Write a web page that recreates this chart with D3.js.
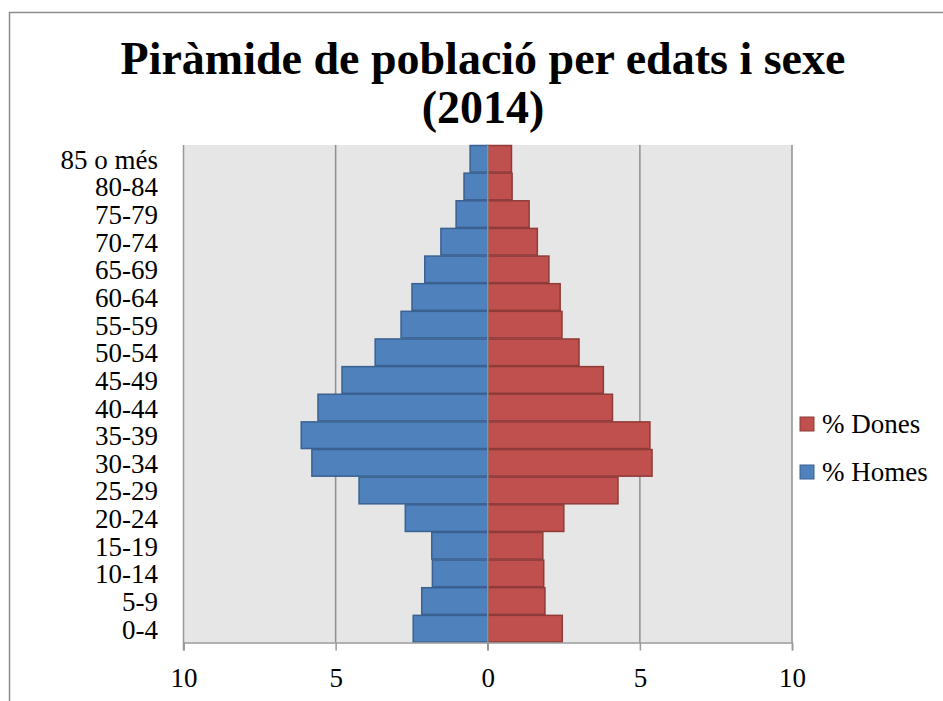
<!DOCTYPE html>
<html>
<head>
<meta charset="utf-8">
<script src="https://cdn.jsdelivr.net/npm/d3@7"></script>
<style>
  body { margin: 0; background: #fff; }
  svg { display: block; }
</style>
</head>
<body>
<svg id="chart" width="943" height="701"></svg>
<script>
// age groups, bottom to top
const ages   = ["0-4", "5-9", "10-14", "15-19", "20-24", "25-29", "30-34", "35-39", "40-44",
                "45-49", "50-54", "55-59", "60-64", "65-69", "70-74", "75-79", "80-84", "85 o més"];
const homes  = [2.45, 2.17, 1.82, 1.84, 2.71, 4.23, 5.78, 6.13, 5.58,
                4.79, 3.70, 2.85, 2.49, 2.07, 1.54, 1.04, 0.78, 0.58];
const dones  = [2.45, 1.88, 1.84, 1.81, 2.50, 4.28, 5.40, 5.33, 4.10,
                3.80, 3.00, 2.44, 2.38, 2.01, 1.63, 1.36, 0.80, 0.78];
const xTicks = [-10, -5, 0, 5, 10];
const legendItems = [
  { name: "% Dones", fill: "#C0504D", stroke: "#8E3B39" },
  { name: "% Homes", fill: "#4F81BD", stroke: "#3A6190" }
];

const FONT = "'Liberation Serif', 'DejaVu Serif', serif";
const svg = d3.select("#chart");

// chart frame
svg.append("rect")
  .attr("x", 9.5).attr("y", 12.5)
  .attr("width", 1000).attr("height", 1000)
  .attr("fill", "#fff")
  .attr("stroke", "#8c8c8c")
  .attr("stroke-width", 1.5);

const plot = { left: 183.5, right: 792, top: 145, bottom: 642.5 };

const x = d3.scaleLinear().domain([-10, 10]).range([plot.left, plot.right]);
const y = d3.scaleBand().domain(ages.slice().reverse()).range([plot.top, plot.bottom]).padding(0);

// title
const title = svg.append("text")
  .attr("text-anchor", "middle")
  .attr("font-family", FONT)
  .attr("font-weight", "bold")
  .attr("font-size", 46)
  .attr("fill", "#000");
title.append("tspan").attr("x", 483).attr("y", 74).text("Piràmide de població per edats i sexe");
title.append("tspan").attr("x", 483).attr("y", 123).text("(2014)");

// plot background
svg.append("rect")
  .attr("x", plot.left).attr("y", plot.top)
  .attr("width", plot.right - plot.left).attr("height", plot.bottom - plot.top)
  .attr("fill", "#E6E6E6");

// vertical gridlines
svg.append("g")
  .selectAll("line")
  .data(xTicks.filter(t => t !== 0 && t !== -10))
  .join("line")
    .attr("x1", d => x(d)).attr("x2", d => x(d))
    .attr("y1", plot.top).attr("y2", plot.bottom)
    .attr("stroke", "#8f8f8f")
    .attr("stroke-width", 1.5);

// bars
const rows = ages.map((a, i) => ({ age: a, homes: homes[i], dones: dones[i] }));
svg.append("g")
  .selectAll("rect")
  .data(rows)
  .join("rect")
    .attr("x", d => x(-d.homes))
    .attr("y", d => y(d.age) + 0.5)
    .attr("width", d => x(0) - x(-d.homes))
    .attr("height", y.bandwidth() - 1)
    .attr("fill", legendItems[1].fill)
    .attr("stroke", legendItems[1].stroke)
    .attr("stroke-width", 1.5);

svg.append("g")
  .selectAll("rect")
  .data(rows)
  .join("rect")
    .attr("x", x(0))
    .attr("y", d => y(d.age) + 0.5)
    .attr("width", d => x(d.dones) - x(0))
    .attr("height", y.bandwidth() - 1)
    .attr("fill", legendItems[0].fill)
    .attr("stroke", legendItems[0].stroke)
    .attr("stroke-width", 1.5);

// zero line
svg.append("line")
  .attr("x1", x(0)).attr("x2", x(0))
  .attr("y1", plot.top).attr("y2", plot.bottom + 8)
  .attr("stroke", "#8f8f8f")
  .attr("stroke-width", 1.5);

// left axis line
svg.append("line")
  .attr("x1", plot.left).attr("x2", plot.left)
  .attr("y1", plot.top).attr("y2", plot.bottom + 8)
  .attr("stroke", "#999")
  .attr("stroke-width", 1.5);

// bottom axis
const xAxis = svg.append("g")
  .attr("transform", `translate(0,${plot.bottom})`)
  .call(d3.axisBottom(x).tickValues(xTicks).tickFormat(d => Math.abs(d)).tickSize(8));
xAxis.select(".domain").attr("stroke", "#999").attr("stroke-width", 1.5);
xAxis.selectAll(".tick line").attr("stroke", "#999").attr("stroke-width", 1.5);
xAxis.selectAll(".tick text")
  .attr("y", 44)
  .attr("dy", null)
  .attr("font-family", FONT)
  .attr("font-size", 27)
  .attr("fill", "#000");

// category labels
svg.append("g")
  .selectAll("text")
  .data(ages)
  .join("text")
    .attr("x", 158)
    .attr("y", d => y(d) + y.bandwidth() / 2)
    .attr("dy", "0.37em")
    .attr("text-anchor", "end")
    .attr("font-family", FONT)
    .attr("font-size", 27)
    .attr("fill", "#000")
    .text(d => d);

// legend
const legend = svg.append("g")
  .selectAll("g")
  .data(legendItems)
  .join("g")
    .attr("transform", (d, i) => `translate(800,${417 + i * 48})`);
legend.append("rect")
  .attr("width", 14).attr("height", 14)
  .attr("fill", d => d.fill)
  .attr("stroke", d => d.stroke)
  .attr("stroke-width", 1);
legend.append("text")
  .attr("x", 22).attr("y", 7)
  .attr("dy", "0.35em")
  .attr("font-family", FONT)
  .attr("font-size", 27)
  .attr("fill", "#000")
  .text(d => d.name);
</script>
</body>
</html>
